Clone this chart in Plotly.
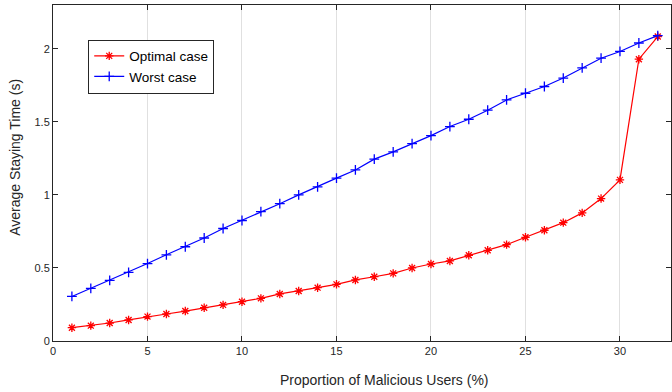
import plotly.graph_objects as go

x_vals = list(range(1, 33))
optimal = [0.091, 0.105, 0.123, 0.144, 0.167, 0.185, 0.205, 0.228, 0.247, 0.269,
           0.292, 0.322, 0.342, 0.365, 0.388, 0.418, 0.440, 0.463, 0.500, 0.527,
           0.548, 0.587, 0.621, 0.660, 0.710, 0.758, 0.810, 0.877, 0.975, 1.103,
           1.929, 2.084]
worst = [0.305, 0.360, 0.415, 0.470, 0.530, 0.590, 0.645, 0.705, 0.770, 0.825,
         0.885, 0.940, 1.000, 1.055, 1.115, 1.171, 1.245, 1.295, 1.351, 1.406,
         1.468, 1.518, 1.580, 1.650, 1.696, 1.742, 1.800, 1.870, 1.936, 1.982,
         2.040, 2.090]
x_ticks = [0, 5, 10, 15, 20, 25, 30]
y_ticks = [0, 0.5, 1, 1.5, 2]
y_tick_labels = ["0", "0.5", "1", "1.5", "2"]
x_title = "Proportion of Malicious Users (%)"
y_title = "Average Staying Time (s)"

font = "Liberation Sans, Arial, sans-serif"

fig = go.Figure()
fig.add_trace(go.Scatter(
    x=x_vals, y=optimal, mode="lines+markers", name="Optimal case",
    line=dict(color="#ff0000", width=1.2),
    marker=dict(symbol="asterisk-open", size=7, color="#ff0000",
                line=dict(color="#ff0000", width=1.3)),
))
fig.add_trace(go.Scatter(
    x=x_vals, y=worst, mode="lines+markers", name="Worst case",
    line=dict(color="#0000ff", width=1.2),
    marker=dict(symbol="cross-thin-open", size=7, color="#0000ff",
                line=dict(color="#0000ff", width=1.3)),
))

fig.update_layout(
    width=672, height=392,
    margin=dict(l=53, r=1, t=5, b=51),
    paper_bgcolor="white", plot_bgcolor="white",
    font=dict(family=font, size=11, color="#262626"),
    showlegend=True,
    legend=dict(
        x=0.057, y=0.897, xanchor="left", yanchor="top",
        bgcolor="white", bordercolor="#262626", borderwidth=1,
        font=dict(family=font, size=13.5, color="#000000"),
        tracegroupgap=0, itemwidth=30,
    ),
    xaxis=dict(
        range=[0, 32.7], tickvals=x_ticks, ticks="inside", ticklen=5,
        tickcolor="#262626", showline=True, linecolor="#262626", linewidth=1,
        mirror="ticks", showgrid=True, gridcolor="#e0e0e0", gridwidth=1,
        zeroline=False,
    ),
    yaxis=dict(
        range=[0, 2.3], tickvals=y_ticks, ticktext=y_tick_labels,
        ticks="inside", ticklen=5, tickcolor="#262626", showline=True,
        linecolor="#262626", linewidth=1, mirror="ticks", showgrid=False,
        zeroline=False,
    ),
    annotations=[
        dict(text=x_title, xref="paper", yref="paper", x=0.5356, y=-0.116,
             xanchor="center", yanchor="middle", showarrow=False,
             font=dict(family=font, size=14, color="#262626")),
        dict(text=y_title, xref="paper", yref="paper", x=-0.0615, y=0.548,
             xanchor="center", yanchor="middle", showarrow=False, textangle=-90,
             font=dict(family=font, size=14, color="#262626")),
    ],
)

fig.write_html("out.html")
